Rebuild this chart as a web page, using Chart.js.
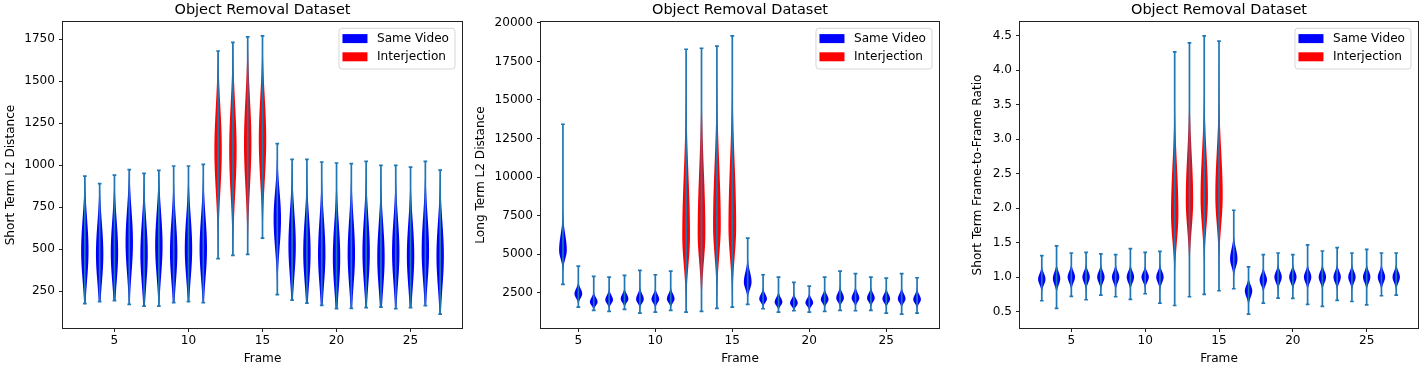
<!DOCTYPE html>
<html><head><meta charset="utf-8">
<script src="https://cdn.jsdelivr.net/npm/chart.js@4.4.0/dist/chart.umd.min.js"></script>
<style>
html,body{margin:0;padding:0;background:#fff;width:1427px;height:372px;overflow:hidden;}
canvas{position:absolute;top:0;}
</style></head><body>
<canvas id="c1" width="470" height="372" style="left:0px"></canvas>
<canvas id="c2" width="490" height="372" style="left:470px"></canvas>
<canvas id="c3" width="467" height="372" style="left:960px"></canvas>
<script>
// ---------------- DATA ----------------
const chartTitle = 'Object Removal Dataset';
const seriesLabels = ['Same Video', 'Interjection'];
const interjectionFrames = [12, 13, 14, 15];
const xTicks = [5, 10, 15, 20, 25];

// Panel 1: Short Term L2 Distance
const stFrames = [3,4,5,6,7,8,9,10,11,12,13,14,15,16,17,18,19,20,21,22,23,24,25,26,27];
const stMin  = [175,187,193,171,161,161,181,187,181,443,463,469,566,229,196,178,165,145,147,151,155,145,151,163,113];
const stMax  = [935,890,941,973,951,969,995,995,1005,1680,1732,1764,1770,1128,1035,1035,1019,1013,1009,1023,999,999,989,1023,971];
const stMode = [490,470,480,540,470,520,480,500,500,1090,1090,1130,1150,680,520,480,470,450,470,480,450,480,460,490,460];
const stSdLo = [175,170,175,185,180,180,175,175,175,250,265,265,245,175,185,180,185,185,185,185,185,185,185,185,190];
const stSdHi = [190,185,190,195,195,195,195,195,195,260,270,270,255,165,200,200,205,205,205,205,200,200,200,205,200];
const stTicks = [250, 500, 750, 1000, 1250, 1500, 1750];

// Panel 2: Long Term L2 Distance
const ltFrames = [4,5,6,7,8,9,10,11,12,13,14,15,16,17,18,19,20,21,22,23,24,25,26,27];
const ltMin  = [3039,1565,1351,1286,1416,1178,1243,1351,1243,1286,1481,1565,1740,1459,1243,1330,1243,1286,1351,1330,1351,1178,1113,1178];
const ltMax  = [13425,4227,3558,3513,3623,3948,3666,3904,18292,18357,18487,19156,6044,3666,3513,3169,2928,3513,3904,3733,3513,3450,3733,3470];
const ltMode = [5250,2430,1900,2030,2100,2080,2080,2100,6200,6400,6900,6800,3190,2100,1890,1830,1850,2060,2150,2150,2150,2100,2100,2060];
const ltSdLo = [550,280,220,230,230,250,240,240,1900,1900,2000,2000,450,230,220,210,210,230,240,240,240,240,240,240];
const ltSdHi = [1000,330,280,300,300,330,300,320,4000,4000,3900,4100,650,300,290,270,260,300,330,320,300,300,320,300];
const ltTicks = [2500, 5000, 7500, 10000, 12500, 15000, 17500, 20000];

// Panel 3: Short Term Frame-to-Frame Ratio
const rFrames = [3,4,5,6,7,8,9,10,11,12,13,14,15,16,17,18,19,20,21,22,23,24,25,26,27];
const rMin  = [0.656,0.544,0.718,0.670,0.738,0.714,0.675,0.757,0.622,0.587,0.714,0.747,0.801,0.830,0.462,0.622,0.695,0.690,0.602,0.573,0.660,0.645,0.597,0.728,0.738];
const rMax  = [1.310,1.451,1.349,1.358,1.335,1.325,1.412,1.358,1.373,4.267,4.398,4.500,4.423,1.969,1.146,1.325,1.349,1.325,1.466,1.378,1.426,1.349,1.402,1.349,1.349];
const rMode = [0.97,0.98,1.00,1.00,1.00,1.00,1.00,1.00,1.00,1.92,2.12,2.15,2.18,1.26,0.80,0.96,1.00,1.00,1.00,1.00,1.00,1.00,1.00,1.00,1.00];
const rSdLo = [0.08,0.09,0.08,0.08,0.08,0.08,0.08,0.07,0.08,0.40,0.42,0.42,0.42,0.11,0.09,0.08,0.08,0.08,0.08,0.08,0.08,0.08,0.08,0.08,0.08];
const rSdHi = [0.08,0.09,0.08,0.08,0.08,0.08,0.08,0.07,0.08,0.70,0.66,0.66,0.64,0.15,0.08,0.08,0.08,0.08,0.08,0.08,0.08,0.08,0.08,0.08,0.08];
const rTicks = [0.5, 1.0, 1.5, 2.0, 2.5, 3.0, 3.5, 4.0, 4.5];

// ---------------- RENDERING ----------------
const FONT = "'DejaVu Sans', sans-serif";
const FS = 12.1, TFS = 14.5;
Chart.defaults.font.family = FONT;
Chart.defaults.font.size = FS;
Chart.defaults.color = '#000';
const BLUE = '#0000ff', RED = '#ff0000', LINE = '#1f77b4';

function buildDatasets(frames, mins, maxs, modes, sdLo, sdHi) {
  const sv = [], ij = [];
  frames.forEach((f, i) => {
    const pt = {x: f, y: modes[i], min: mins[i], max: maxs[i], sdLo: sdLo[i], sdHi: sdHi[i]};
    (interjectionFrames.includes(f) ? ij : sv).push(pt);
  });
  return [
    {label: seriesLabels[0], data: sv, backgroundColor: BLUE, borderColor: BLUE, pointRadius: 0, showLine: false},
    {label: seriesLabels[1], data: ij, backgroundColor: RED, borderColor: RED, pointRadius: 0, showLine: false}
  ];
}
function padded(lo, hi) { const m = (hi - lo) * 0.05; return [lo - m, hi + m]; }

const violinPlugin = {
  id: 'violin',
  afterDatasetsDraw(chart) {
    const ctx = chart.ctx, xs = chart.scales.x, ys = chart.scales.y;
    const half = 0.25, cap = 0.125, N = 200;
    ctx.save();
    chart.data.datasets.forEach(ds => {
      ds.data.forEach(d => {
        ctx.fillStyle = ds.backgroundColor;
        const pts = [];
        for (let k = 0; k <= N; k++) {
          const v = d.min + (d.max - d.min) * k / N;
          const s = v < d.y ? d.sdLo : d.sdHi;
          const z = (v - d.y) / s;
          pts.push([v, half * Math.exp(-0.5 * z * z)]);
        }
        ctx.beginPath();
        pts.forEach(([v, w], k) => {
          const px = xs.getPixelForValue(d.x + w), py = ys.getPixelForValue(v);
          if (k) ctx.lineTo(px, py); else ctx.moveTo(px, py);
        });
        for (let k = N; k >= 0; k--) {
          const [v, w] = pts[k];
          ctx.lineTo(xs.getPixelForValue(d.x - w), ys.getPixelForValue(v));
        }
        ctx.closePath();
        ctx.fill();
      });
    });
    ctx.strokeStyle = LINE; ctx.lineWidth = 1.7; ctx.lineCap = 'butt';
    chart.data.datasets.forEach(ds => ds.data.forEach(d => {
      const x = xs.getPixelForValue(d.x);
      const y0 = ys.getPixelForValue(d.min), y1 = ys.getPixelForValue(d.max);
      const xl = xs.getPixelForValue(d.x - cap), xr = xs.getPixelForValue(d.x + cap);
      ctx.beginPath();
      ctx.moveTo(x, y0); ctx.lineTo(x, y1);
      ctx.moveTo(xl, y0); ctx.lineTo(xr, y0);
      ctx.moveTo(xl, y1); ctx.lineTo(xr, y1);
      ctx.stroke();
    }));
    ctx.restore();
  }
};

const framePlugin = {
  id: 'frame',
  afterDraw(chart) {
    const ctx = chart.ctx, a = chart.chartArea;
    ctx.save();
    // spines
    ctx.strokeStyle = '#222'; ctx.lineWidth = 1;
    const L = Math.round(a.left) - 0.5, R = Math.round(a.right) + 0.5;
    const T = Math.round(a.top) - 0.5, B = Math.round(a.bottom) + 0.5;
    ctx.strokeRect(L, T, R - L, B - T);
    // title
    ctx.fillStyle = '#000';
    ctx.font = `${TFS}px ${FONT}`;
    ctx.textAlign = 'center'; ctx.textBaseline = 'alphabetic';
    ctx.fillText(chartTitle, (a.left + a.right) / 2, 14);
    // legend
    ctx.font = `${FS}px ${FONT}`;
    const dss = chart.data.datasets;
    const tw = Math.max(...dss.map(d => ctx.measureText(d.label).width));
    const bw = 38 + tw + 6, bh = 40.7;
    const bx = a.right - 7 - bw, by = a.top + 6.3;
    const r = 3;
    ctx.beginPath();
    ctx.moveTo(bx + r, by); ctx.lineTo(bx + bw - r, by); ctx.arcTo(bx + bw, by, bx + bw, by + r, r);
    ctx.lineTo(bx + bw, by + bh - r); ctx.arcTo(bx + bw, by + bh, bx + bw - r, by + bh, r);
    ctx.lineTo(bx + r, by + bh); ctx.arcTo(bx, by + bh, bx, by + bh - r, r);
    ctx.lineTo(bx, by + r); ctx.arcTo(bx, by, bx + r, by, r);
    ctx.closePath();
    ctx.fillStyle = 'rgba(255,255,255,0.8)'; ctx.fill();
    ctx.strokeStyle = 'rgba(204,204,204,0.8)'; ctx.lineWidth = 1; ctx.stroke();
    const rows = [10.3, 28.5];
    dss.forEach((d, i) => {
      const cy = by + rows[i];
      ctx.fillStyle = d.backgroundColor;
      ctx.fillRect(bx + 3.5, cy - 4.5, 25, 9);
      ctx.fillStyle = '#000';
      ctx.textAlign = 'left'; ctx.textBaseline = 'middle';
      ctx.fillText(d.label, bx + 38, cy + 0.5);
    });
    ctx.restore();
  }
};

function makeChart(id, p) {
  const xr = padded(Math.min(...p.frames) - 0.25, Math.max(...p.frames) + 0.25);
  const yr = padded(Math.min(...p.mins), Math.max(...p.maxs));
  const gridOpts = {display: true, drawOnChartArea: false, drawTicks: true, tickLength: 4, color: '#222', lineWidth: 1};
  return new Chart(document.getElementById(id), {
    type: 'scatter',
    data: {datasets: buildDatasets(p.frames, p.mins, p.maxs, p.modes, p.sdLo, p.sdHi)},
    options: {
      responsive: false, animation: false, devicePixelRatio: 1, events: [],
      layout: {padding: {left: p.padL, right: p.padR, top: 22, bottom: 0}},
      plugins: {legend: {display: false}, tooltip: {enabled: false}, title: {display: false}},
      elements: {point: {radius: 0, hoverRadius: 0}},
      scales: {
        x: {
          type: 'linear', min: xr[0], max: xr[1],
          afterBuildTicks: s => { s.ticks = xTicks.map(v => ({value: v})); },
          afterFit: s => { s.height = 44; },
          ticks: {autoSkip: false, maxRotation: 0, padding: 2, color: '#000', callback: v => String(v)},
          grid: gridOpts, border: {display: false},
          title: {display: true, text: 'Frame', color: '#000', font: {size: FS}, padding: {top: 0, bottom: 6}}
        },
        y: {
          type: 'linear', min: yr[0], max: yr[1],
          afterBuildTicks: s => { s.ticks = p.ticks.map(v => ({value: v})); },
          afterFit: s => { s.width = p.yw; },
          ticks: {autoSkip: false, padding: 4, color: '#000', callback: p.fmt},
          grid: gridOpts, border: {display: false},
          title: {display: true, text: p.ylabel, color: '#000', font: {size: FS}, padding: {top: 0, bottom: 0}}
        }
      }
    },
    plugins: [violinPlugin, framePlugin]
  });
}

makeChart('c1', {frames: stFrames, mins: stMin, maxs: stMax, modes: stMode, sdLo: stSdLo, sdHi: stSdHi,
  ticks: stTicks, fmt: v => String(v), ylabel: 'Short Term L2 Distance', padL: 4, yw: 59, padR: 8});
makeChart('c2', {frames: ltFrames, mins: ltMin, maxs: ltMax, modes: ltMode, sdLo: ltSdLo, sdHi: ltSdHi,
  ticks: ltTicks, fmt: v => String(v), ylabel: 'Long Term L2 Distance', padL: 4, yw: 67, padR: 21});
makeChart('c3', {frames: rFrames, mins: rMin, maxs: rMax, modes: rMode, sdLo: rSdLo, sdHi: rSdHi,
  ticks: rTicks, fmt: v => Number(v).toFixed(1), ylabel: 'Short Term Frame-to-Frame Ratio', padL: 11, yw: 49, padR: 9});
</script>
</body></html>
